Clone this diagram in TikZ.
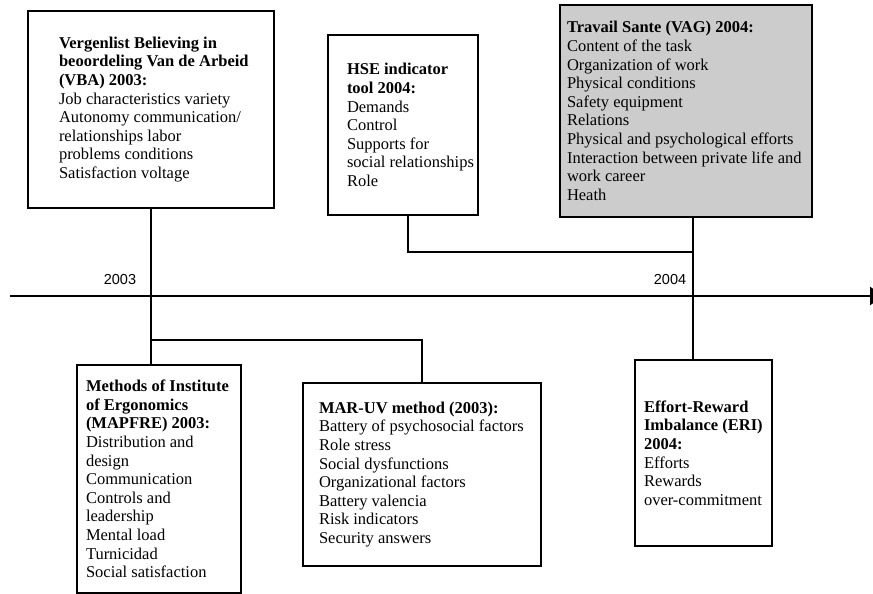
\documentclass[tikz,border=0pt]{standalone}
\usepackage{fontspec}
\setmainfont{Liberation Serif}
\newfontfamily\yearfont{Liberation Sans}
\usetikzlibrary{arrows.meta}
\tikzset{
    methodbox/.style={draw, line width=2.4pt, inner sep=0pt},
    methodtext/.style={align=left, inner sep=0pt, anchor=west,
        font=\fontsize{16.5}{18.6}\selectfont},
    yearlabel/.style={inner sep=0pt, font=\yearfont\fontsize{14.5}{16}\selectfont},
    link/.style={line width=2.4pt}
}
\begin{document}
\begin{tikzpicture}[x=1pt, y=-1pt]
    \useasboundingbox (0,0) rectangle (873,594);
    % Axis
    \coordinate (axisstart) at (10,296);
    \coordinate (axisend) at (884,296);
    \draw[link, -{Triangle[length=14pt, width=18pt]}] (axisstart) -- (axisend);
    \node[yearlabel] (y2003) at (120,280) {2003};
    \node[yearlabel] (y2004) at (670,280) {2004};
    % Boxes above
    \node[methodbox, minimum width=246pt, minimum height=197pt] (vba) at (151,109.5) {};
    \node[methodtext] (vbatext) at ([xshift=32pt]vba.west)
        {\textbf{Vergenlist Believing in}\\
         \textbf{beoordeling Van de Arbeid}\\
         \textbf{(VBA) 2003:}\\
         Job characteristics variety\\
         Autonomy communication/\\
         relationships labor\\
         problems conditions\\
         Satisfaction voltage};
    \node[methodbox, minimum width=150pt, minimum height=180pt] (hse) at (403,125) {};
    \node[methodtext] (hsetext) at ([xshift=20pt]hse.west)
        {\textbf{HSE indicator}\\
         \textbf{tool 2004:}\\
         Demands\\
         Control\\
         Supports for\\
         social relationships\\
         Role};
    \node[methodbox, fill={rgb,255:red,204;green,204;blue,204}, minimum width=252pt, minimum height=212pt] (vag) at (686,111) {};
    \node[methodtext] (vagtext) at ([xshift=8pt]vag.west)
        {\textbf{Travail Sante (VAG) 2004:}\\
         Content of the task\\
         Organization of work\\
         Physical conditions\\
         Safety equipment\\
         Relations\\
         Physical and psychological efforts\\
         Interaction between private life and\\
         work career\\
         Heath};
    % Boxes below
    \node[methodbox, minimum width=164pt, minimum height=228pt] (mapfre) at (159,479) {};
    \node[methodtext] (mapfretext) at ([xshift=10pt]mapfre.west)
        {\textbf{Methods of Institute}\\
         \textbf{of Ergonomics}\\
         \textbf{(MAPFRE) 2003:}\\
         Distribution and\\
         design\\
         Communication\\
         Controls and\\
         leadership\\
         Mental load\\
         Turnicidad\\
         Social satisfaction};
    \node[methodbox, minimum width=238pt, minimum height=183pt] (maruv) at (422,474.5) {};
    \node[methodtext] (maruvtext) at ([xshift=17pt]maruv.west)
        {\textbf{MAR-UV method (2003):}\\
         Battery of psychosocial factors\\
         Role stress\\
         Social dysfunctions\\
         Organizational factors\\
         Battery valencia\\
         Risk indicators\\
         Security answers};
    \node[methodbox, minimum width=137pt, minimum height=186pt] (eri) at (703.5,453) {};
    \node[methodtext] (eritext) at ([xshift=10pt]eri.west)
        {\textbf{Effort-Reward}\\
         \textbf{Imbalance (ERI)}\\
         \textbf{2004:}\\
         Efforts\\
         Rewards\\
         over-commitment};
    % Connectors
    \coordinate (fork03) at (151,340);
    \coordinate (fork04) at (693,252);
    \draw[link] (vba.south) -- (vba.south |- mapfre.north);
    \draw[link] (fork03) -| (maruv.north);
    \draw[link] ([xshift=5pt]hse.south) |- (fork04);
    \draw[link] ([xshift=7pt]vag.south) -- ([xshift=7pt]vag.south |- eri.north);
\end{tikzpicture}
\end{document}
